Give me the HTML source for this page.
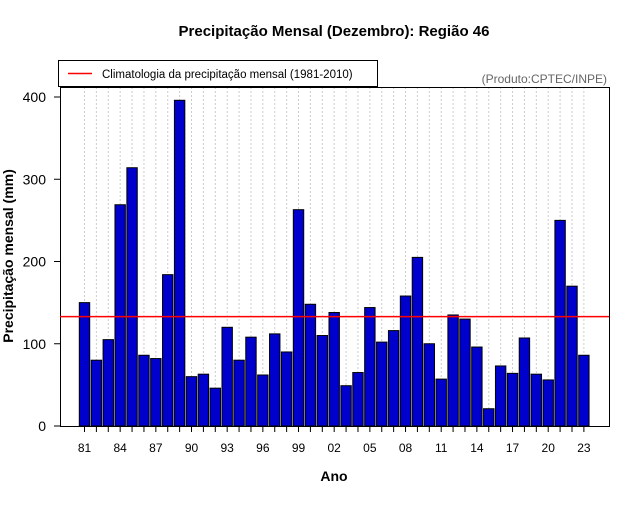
<!DOCTYPE html>
<html><head><meta charset="utf-8"><style>
body{margin:0;background:#fff;font-family:"Liberation Sans",sans-serif}
svg text{font-family:"Liberation Sans",sans-serif}
</style></head><body>
<svg id="chart" width="640" height="500" xmlns="http://www.w3.org/2000/svg">
<rect width="640" height="500" fill="#fff"/>
<text x="334" y="36" text-anchor="middle" font-size="15" font-weight="bold">Precipitação Mensal (Dezembro): Região 46</text>
<g id="grid"></g><g id="bars"></g><g id="axes"></g>
<text x="334" y="481" text-anchor="middle" font-size="14" font-weight="bold">Ano</text>
<text transform="translate(13,256) rotate(-90)" text-anchor="middle" font-size="14" font-weight="bold">Precipitação mensal (mm)</text>
<text x="607" y="83" text-anchor="end" font-size="12" fill="#666">(Produto:CPTEC/INPE)</text>
<g>
<rect x="58.5" y="60.5" width="319" height="26" fill="#fff" stroke="#000"/>
<line x1="68" y1="73.5" x2="92" y2="73.5" stroke="#f00" stroke-width="1.5"/>
<text x="102" y="78" font-size="11.5">Climatologia da precipitação mensal (1981-2010)</text>
</g>
</svg>
<script>
const years=[1981,1982,1983,1984,1985,1986,1987,1988,1989,1990,1991,1992,1993,1994,1995,1996,1997,1998,1999,2000,2001,2002,2003,2004,2005,2006,2007,2008,2009,2010,2011,2012,2013,2014,2015,2016,2017,2018,2019,2020,2021,2022,2023];
const precip=[150,80,105,269,314,86,82,184,396,60,63,46,120,80,108,62,112,90,263,148,110,138,49,65,144,102,116,158,205,100,57,135,130,96,21,73,64,107,63,56,250,170,86];
const climatology=[133];
const yTicks=[0,100,200,300,400];
const NS="http://www.w3.org/2000/svg";
const L=60,R=609,T=87,B=426;
const x0=84.5,step=11.89,bw=10.4;
function xS(i){return x0+i*step;}
function yS(v){return B-v*0.8225;}
function mk(tag,at,parent){const e=document.createElementNS(NS,tag);for(const k in at)e.setAttribute(k,at[k]);document.getElementById(parent).appendChild(e);return e;}
years.forEach((yr,i)=>{
  const g=mk('line',{x1:xS(i),x2:xS(i),y1:T,y2:B,stroke:'#ccc','stroke-dasharray':'2,2','stroke-width':1},'grid');
  
  
  const b=mk('rect',{x:xS(i)-bw/2,y:yS(precip[i]),width:bw,height:B-yS(precip[i]),fill:'#0000cd',stroke:'#000','stroke-width':1},'bars');
  
  
  const t=mk('line',{x1:xS(i),x2:xS(i),y1:B,y2:B+6,stroke:'#000'},'axes');
  
  
  if(i%3===0){const l=mk('text',{x:xS(i),y:452,'text-anchor':'middle','font-size':12},'axes');l.textContent=String(yr%100).padStart(2,'0');
  
  }
});
const fr=mk('rect',{x:L+0.5,y:T+0.5,width:R-L,height:B-T,fill:'none',stroke:'#000'},'axes');


yTicks.forEach(v=>{
  const t=mk('line',{x1:L-6,x2:L,y1:yS(v),y2:yS(v),stroke:'#000'},'axes');
  
  
  const l=mk('text',{x:L-14,y:yS(v)+5,'text-anchor':'end','font-size':14},'axes');l.textContent=v;
  
  
});
const cl=mk('line',{x1:L,x2:R,y1:yS(climatology[0]),y2:yS(climatology[0]),stroke:'#f00','stroke-width':1.5},'axes');


</script>
</body></html>
